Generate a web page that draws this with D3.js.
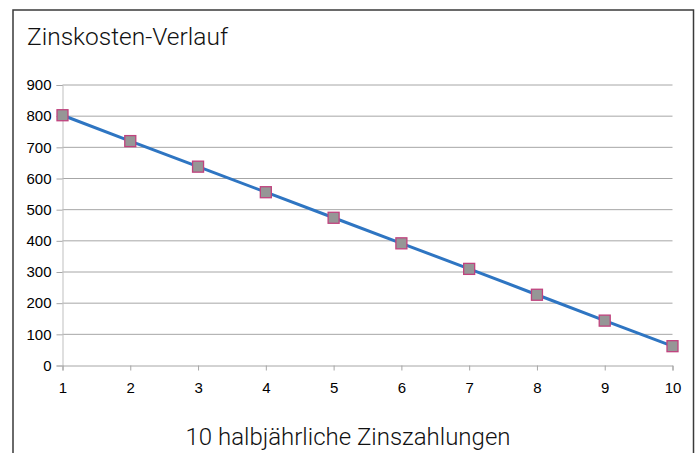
<!DOCTYPE html>
<html><head><meta charset="utf-8">
<script src="https://cdn.jsdelivr.net/npm/d3@7"></script>
<style>body{margin:0;background:#fff}svg{display:block}</style>
</head><body>
<svg id="c" width="695" height="453"></svg>
<script>
const periods = [1,2,3,4,5,6,7,8,9,10];
const zinskosten = [803, 720, 638, 556, 474, 392, 310, 227, 144, 62];
const yTicks = [0,100,200,300,400,500,600,700,800,900];
const title = "Zinskosten-Verlauf";
const xTitle = "10 halbjährliche Zinszahlungen";

const svg = d3.select("#c");
// frame
svg.append("rect").attr("x",13).attr("y",10).attr("width",680.5).attr("height",460)
  .attr("fill","#fff").attr("stroke","#3a3a3a").attr("stroke-width",1.5);

const x = d3.scaleLinear().domain([1,10]).range([62.5,672.5]);
const y = d3.scaleLinear().domain([0,900]).range([365.5,85]);

// gridlines
svg.append("g").selectAll("line").data(yTicks.filter(d=>d>0)).join("line")
  .attr("x1",x(1)).attr("x2",x(10)).attr("y1",d=>y(d)).attr("y2",d=>y(d))
  .attr("stroke","#a6a6a6").attr("stroke-width",1);

// y axis
const yAxis = svg.append("g").attr("transform",`translate(${x(1)},0)`)
  .call(d3.axisLeft(y).tickValues(yTicks).tickSize(6).tickPadding(5));
yAxis.attr("font-size",15).attr("font-family","Liberation Sans, Arial, sans-serif");
yAxis.select(".domain").attr("stroke","#bfbfbf");
yAxis.selectAll(".tick line").attr("stroke","#a6a6a6");
yAxis.selectAll("text").attr("fill","#000");

// x axis
const xAxis = svg.append("g").attr("transform",`translate(0,${y(0)})`)
  .call(d3.axisBottom(x).tickValues(periods).tickSize(5).tickPadding(12).tickFormat(d3.format("d")));
xAxis.attr("font-size",15).attr("font-family","Liberation Sans, Arial, sans-serif");
xAxis.select(".domain").attr("stroke","#a6a6a6");
xAxis.selectAll(".tick line").attr("stroke","#a6a6a6");
xAxis.selectAll("text").attr("fill","#000");

// line
const data = periods.map((p,i)=>({p, v: zinskosten[i]}));
svg.append("path").datum(data)
  .attr("d", d3.line().x(d=>x(d.p)).y(d=>y(d.v)))
  .attr("fill","none").attr("stroke","#2e75c2").attr("stroke-width",3);

// markers
svg.append("g").selectAll("rect").data(data).join("rect")
  .attr("x",d=>x(d.p)-5.5).attr("y",d=>y(d.v)-5.5).attr("width",11).attr("height",11)
  .attr("fill","#969696").attr("stroke","#c0427e").attr("stroke-width",1.3);

// titles
svg.append("text").attr("x",27).attr("y",45).text(title)
  .attr("font-family","Roboto, sans-serif").attr("font-weight",300).attr("font-size",24.5).attr("fill","#111");
svg.append("text").attr("x",348).attr("y",445).attr("text-anchor","middle").text(xTitle)
  .attr("font-family","Roboto, sans-serif").attr("font-weight",300).attr("font-size",24).attr("fill","#111");
</script>
</body></html>
